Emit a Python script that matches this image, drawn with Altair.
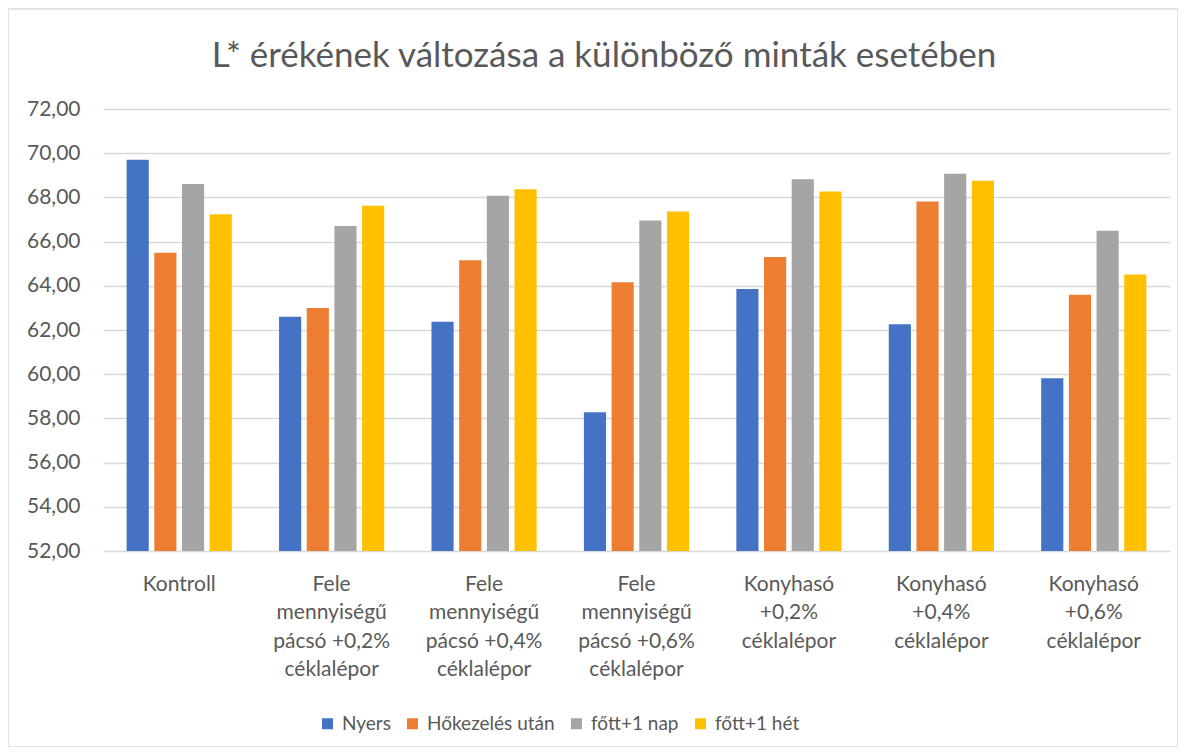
import altair as alt
import pandas as pd

categories = [
    "Kontroll",
    "Fele\nmennyiségű\npácsó +0,2%\ncéklalépor",
    "Fele\nmennyiségű\npácsó +0,4%\ncéklalépor",
    "Fele\nmennyiségű\npácsó +0,6%\ncéklalépor",
    "Konyhasó\n+0,2%\ncéklalépor",
    "Konyhasó\n+0,4%\ncéklalépor",
    "Konyhasó\n+0,6%\ncéklalépor",
]
series = ["Nyers", "Hőkezelés után", "főtt+1 nap", "főtt+1 hét"]
colors = ["#4472C4", "#ED7D31", "#A5A5A5", "#FFC000"]

nyers = [69.70, 62.60, 62.37, 58.28, 63.85, 62.26, 59.82]
hokezeles = [65.49, 63.00, 65.16, 64.16, 65.30, 67.81, 63.59]
fott_nap = [68.61, 66.71, 68.07, 66.95, 68.82, 69.07, 66.49]
fott_het = [67.24, 67.62, 68.37, 67.36, 68.27, 68.75, 64.51]

y_ticks = [52, 54, 56, 58, 60, 62, 64, 66, 68, 70, 72]
title_text = "L* érékének változása a különböző minták esetében"

rows = []
for s, vals in zip(series, [nyers, hokezeles, fott_nap, fott_het]):
    for c, v in zip(categories, vals):
        rows.append({"kategoria": c, "sorozat": s, "ertek": v})
df = pd.DataFrame(rows)

FONT = "Lato"
TXT = "#595959"

bars = alt.Chart(df).mark_bar().encode(
    x=alt.X(
        "kategoria:N",
        sort=categories,
        scale=alt.Scale(paddingInner=0.31, paddingOuter=0.155),
        axis=alt.Axis(
            title=None,
            labelAngle=0,
            labelExpr="split(datum.label, '\\n')",
            labelLineHeight=28.5,
            labelFontSize=21,
            labelColor=TXT,
            labelFont=FONT,
            labelPadding=22,
            labelBaseline="top",
            ticks=False,
            domain=False,
            grid=False,
        ),
    ),
    xOffset=alt.XOffset(
        "sorozat:N",
        sort=series,
        scale=alt.Scale(paddingInner=0.2, paddingOuter=0),
    ),
    y=alt.Y(
        "ertek:Q",
        scale=alt.Scale(domain=[52, 72], zero=False, nice=False),
        axis=alt.Axis(
            title=None,
            values=y_ticks,
            labelExpr="replace(format(datum.value, '.2f'), '.', ',')",
            labelFontSize=21,
            labelColor=TXT,
            labelFont=FONT,
            labelPadding=23,
            ticks=False,
            domain=False,
            gridColor="#D9D9D9",
            gridWidth=1.5,
        ),
    ),
    y2=alt.datum(52),
    color=alt.Color(
        "sorozat:N",
        sort=series,
        scale=alt.Scale(domain=series, range=colors),
        legend=alt.Legend(
            title=None,
            orient="none",
            legendX=215,
            legendY=605,
            direction="horizontal",
            symbolType="square",
            symbolSize=121,
            symbolStrokeWidth=0,
            labelFontSize=19,
            labelColor=TXT,
            labelFont=FONT,
            columnPadding=12,
            labelOffset=5,
        ),
    ),
)

title = alt.Chart(pd.DataFrame({"t": [title_text]})).mark_text(
    font=FONT, fontSize=35, fontWeight="normal", color=TXT, align="center", baseline="middle"
).encode(text="t:N", x=alt.value(501), y=alt.value(-53))

border = alt.Chart(pd.DataFrame({"a": [0]})).mark_rect(
    fill=None, stroke="#D9D9D9", strokeWidth=1.5
).encode(
    x=alt.value(-95), x2=alt.value(1075), y=alt.value(-100), y2=alt.value(638)
)

chart = alt.layer(bars, title, border).properties(
    width=1067,
    height=442,
    padding={"left": 95, "top": 101, "right": 8, "bottom": 196},
    autosize=alt.AutoSizeParams(type="none"),
).configure_view(stroke=None)

chart.save("out.html", embed_options={"renderer": "svg", "actions": False})
